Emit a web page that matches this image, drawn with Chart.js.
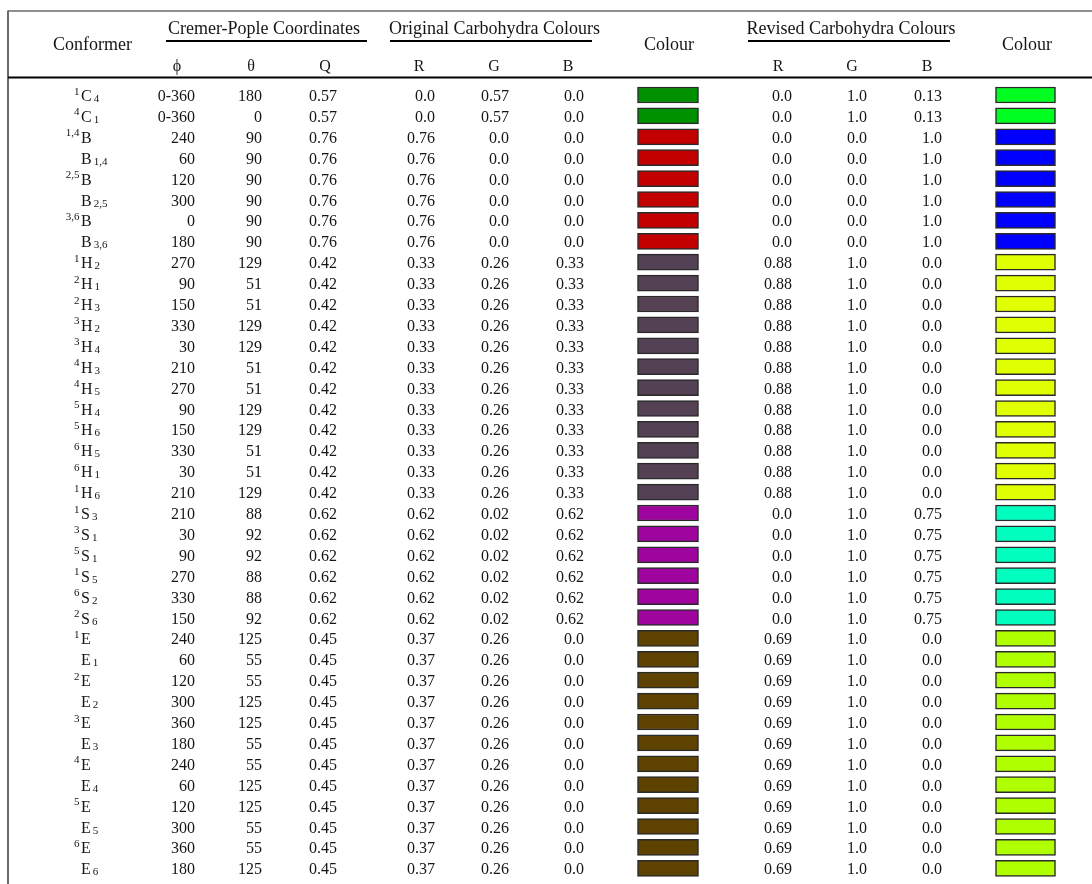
<!DOCTYPE html>
<html>
<head>
<meta charset="utf-8">
<script src="https://cdn.jsdelivr.net/npm/chart.js@4"></script>
<style>
  html, body { margin: 0; padding: 0; background: #fff; }
  #wrap { width: 1092px; height: 884px; }
</style>
</head>
<body>
<div id="wrap"><canvas id="c" width="1092" height="884"></canvas></div>
<script>
// ---------------- DATA ----------------
const confSup  = ["1","4","1,4","","2,5","","3,6","",
                  "1","2","2","3","3","4","4","5","5","6","6","1",
                  "1","3","5","1","6","2",
                  "1","","2","","3","","4","","5","","6",""];
const confBase = ["C","C","B","B","B","B","B","B",
                  "H","H","H","H","H","H","H","H","H","H","H","H",
                  "S","S","S","S","S","S",
                  "E","E","E","E","E","E","E","E","E","E","E","E"];
const confSub  = ["4","1","","1,4","","2,5","","3,6",
                  "2","1","3","2","4","3","5","4","6","5","1","6",
                  "3","1","1","5","2","6",
                  "","1","","2","","3","","4","","5","","6"];
const phi   = ["0-360","0-360","240","60","120","300","0","180",
               "270","90","150","330","30","210","270","90","150","330","30","210",
               "210","30","90","270","330","150",
               "240","60","120","300","360","180","240","60","120","300","360","180"];
const theta = ["180","0","90","90","90","90","90","90",
               "129","51","51","129","129","51","51","129","129","51","51","129",
               "88","92","92","88","88","92",
               "125","55","55","125","125","55","55","125","125","55","55","125"];
const qAmp  = ["0.57","0.57","0.76","0.76","0.76","0.76","0.76","0.76",
               "0.42","0.42","0.42","0.42","0.42","0.42","0.42","0.42","0.42","0.42","0.42","0.42",
               "0.62","0.62","0.62","0.62","0.62","0.62",
               "0.45","0.45","0.45","0.45","0.45","0.45","0.45","0.45","0.45","0.45","0.45","0.45"];
const origR = ["0.0","0.0","0.76","0.76","0.76","0.76","0.76","0.76",
               "0.33","0.33","0.33","0.33","0.33","0.33","0.33","0.33","0.33","0.33","0.33","0.33",
               "0.62","0.62","0.62","0.62","0.62","0.62",
               "0.37","0.37","0.37","0.37","0.37","0.37","0.37","0.37","0.37","0.37","0.37","0.37"];
const origG = ["0.57","0.57","0.0","0.0","0.0","0.0","0.0","0.0",
               "0.26","0.26","0.26","0.26","0.26","0.26","0.26","0.26","0.26","0.26","0.26","0.26",
               "0.02","0.02","0.02","0.02","0.02","0.02",
               "0.26","0.26","0.26","0.26","0.26","0.26","0.26","0.26","0.26","0.26","0.26","0.26"];
const origB = ["0.0","0.0","0.0","0.0","0.0","0.0","0.0","0.0",
               "0.33","0.33","0.33","0.33","0.33","0.33","0.33","0.33","0.33","0.33","0.33","0.33",
               "0.62","0.62","0.62","0.62","0.62","0.62",
               "0.0","0.0","0.0","0.0","0.0","0.0","0.0","0.0","0.0","0.0","0.0","0.0"];
const revR  = ["0.0","0.0","0.0","0.0","0.0","0.0","0.0","0.0",
               "0.88","0.88","0.88","0.88","0.88","0.88","0.88","0.88","0.88","0.88","0.88","0.88",
               "0.0","0.0","0.0","0.0","0.0","0.0",
               "0.69","0.69","0.69","0.69","0.69","0.69","0.69","0.69","0.69","0.69","0.69","0.69"];
const revG  = ["1.0","1.0","0.0","0.0","0.0","0.0","0.0","0.0",
               "1.0","1.0","1.0","1.0","1.0","1.0","1.0","1.0","1.0","1.0","1.0","1.0",
               "1.0","1.0","1.0","1.0","1.0","1.0",
               "1.0","1.0","1.0","1.0","1.0","1.0","1.0","1.0","1.0","1.0","1.0","1.0"];
const revB  = ["0.13","0.13","1.0","1.0","1.0","1.0","1.0","1.0",
               "0.0","0.0","0.0","0.0","0.0","0.0","0.0","0.0","0.0","0.0","0.0","0.0",
               "0.75","0.75","0.75","0.75","0.75","0.75",
               "0.0","0.0","0.0","0.0","0.0","0.0","0.0","0.0","0.0","0.0","0.0","0.0"];

const groupHeaders = ["Cremer-Pople Coordinates", "Original Carbohydra Colours", "Revised Carbohydra Colours"];
const subHeaders   = ["ϕ", "θ", "Q", "R", "G", "B", "R", "G", "B"];
const colourHeader = "Colour";
const conformerHeader = "Conformer";

// ---------------- LAYOUT (style only) ----------------
const FONT = '"Liberation Serif", "Times New Roman", serif';
const INK = '#151515';
const L = {
  letterX: 81,
  numRight: [195, 262, 337, 435, 509, 584, 792, 867, 942],
  subX:     [177, 251, 325, 419, 494, 568, 778, 852, 927],
  groupX: [264, 494.5, 851],
  underline: [[166, 367], [390, 592], [748, 950]],
  colourX: [669, 1027],
  conformerX: 92.5,
  swOrig: [637.5, 698.5],
  swRev:  [995.5, 1055.5]
};

const nRows = confBase.length;
const rowIdx = confBase.map((_, i) => i);
const toRGB = (r, g, b) => `rgb(${Math.round(parseFloat(r)*255)},${Math.round(parseFloat(g)*255)},${Math.round(parseFloat(b)*255)})`;
const origColours = rowIdx.map(i => toRGB(origR[i], origG[i], origB[i]));
const revColours  = rowIdx.map(i => toRGB(revR[i], revG[i], revB[i]));

const tablePlugin = {
  id: 'tableText',
  afterDatasetsDraw(chart) {
    const ctx = chart.ctx, xs = chart.scales.x, ys = chart.scales.y;
    const X = v => xs.getPixelForValue(v);
    ctx.save();
    // frame lines
    ctx.strokeStyle = '#6a6a6a';
    ctx.lineWidth = 1.5;
    ctx.beginPath(); ctx.moveTo(X(8), 11); ctx.lineTo(X(1092), 11); ctx.stroke();
    ctx.lineWidth = 2;
    ctx.beginPath(); ctx.moveTo(X(8), 10.5); ctx.lineTo(X(8), 884); ctx.stroke();
    ctx.strokeStyle = '#000';
    ctx.lineWidth = 2.2;
    ctx.beginPath(); ctx.moveTo(X(8), 77.5); ctx.lineTo(X(1092), 77.5); ctx.stroke();
    ctx.lineWidth = 2;
    L.underline.forEach(([a, b]) => {
      ctx.beginPath(); ctx.moveTo(X(a), 41); ctx.lineTo(X(b), 41); ctx.stroke();
    });

    // headers
    ctx.fillStyle = INK;
    ctx.textBaseline = 'alphabetic';
    ctx.textAlign = 'center';
    ctx.font = '18px ' + FONT;
    groupHeaders.forEach((t, k) => ctx.fillText(t, X(L.groupX[k]), 33.5));
    ctx.fillText(conformerHeader, X(L.conformerX), 49.5);
    L.colourX.forEach(x => ctx.fillText(colourHeader, X(x), 49.5));
    ctx.font = '16px ' + FONT;
    subHeaders.forEach((t, k) => ctx.fillText(t, X(L.subX[k]), 70.7));

    // body
    const cols = [phi, theta, qAmp, origR, origG, origB, revR, revG, revB];
    for (let i = 0; i < nRows; i++) {
      const base = ys.getPixelForValue(i) + 6;
      const bx = X(L.letterX);
      ctx.font = '16px ' + FONT;
      ctx.textAlign = 'left';
      ctx.fillText(confBase[i], bx, base);
      const w = ctx.measureText(confBase[i]).width;
      ctx.font = '11px ' + FONT;
      if (confSub[i]) ctx.fillText(confSub[i], bx + w + 2, base + 1);
      if (confSup[i]) { ctx.textAlign = 'right'; ctx.fillText(confSup[i], bx - 1.5, base - 6.5); }
      ctx.font = '16px ' + FONT;
      ctx.textAlign = 'right';
      cols.forEach((arr, k) => ctx.fillText(arr[i], X(L.numRight[k]), base));
    }
    ctx.restore();
  }
};

function build() {
  new Chart(document.getElementById('c'), {
    type: 'bar',
    data: {
      labels: rowIdx.map(i => confSup[i] + confBase[i] + confSub[i]),
      datasets: [
        { label: 'Original colour', data: rowIdx.map(() => L.swOrig), backgroundColor: origColours,
          borderColor: '#2a2a2a', borderWidth: 1.5, borderSkipped: false, barThickness: 16, grouped: false },
        { label: 'Revised colour', data: rowIdx.map(() => L.swRev), backgroundColor: revColours,
          borderColor: '#2a2a2a', borderWidth: 1.5, borderSkipped: false, barThickness: 16, grouped: false }
      ]
    },
    options: {
      indexAxis: 'y',
      responsive: false,
      animation: false,
      devicePixelRatio: 1,
      layout: { padding: { top: 84.55, bottom: 5.25, left: 0, right: 0 } },
      plugins: { legend: { display: false }, tooltip: { enabled: false } },
      scales: {
        x: { type: 'linear', min: 0, max: 1092, display: false },
        y: { type: 'category', display: false, offset: true }
      }
    },
    plugins: [tablePlugin]
  });
}
if (document.fonts && document.fonts.load) {
  Promise.all([document.fonts.load('16px "Liberation Serif"'), document.fonts.load('18px "Liberation Serif"')])
    .then(build, build);
} else build();
</script>
</body>
</html>
